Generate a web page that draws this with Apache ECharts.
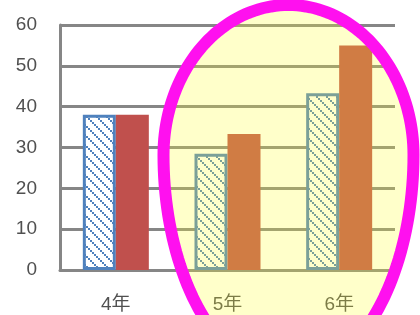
<!DOCTYPE html>
<html>
<head>
<meta charset="utf-8">
<script src="https://cdn.jsdelivr.net/npm/echarts@6/dist/echarts.min.js"></script>
<style>
html, body { margin: 0; padding: 0; background: #fff; }
#main { width: 420px; height: 315px; }
</style>
</head>
<body>
<div id="main"></div>
<script>
// 数据
var categories = ['4年', '5年', '6年'];
var hatchValues = [38, 28.5, 43.3];
var solidValues = [38, 33.3, 55];
var yTicks = [0, 10, 20, 30, 40, 50, 60];

// 斜线填充
function makeHatch(color) {
    var c = document.createElement('canvas');
    c.width = 10;
    c.height = 10;
    var ctx = c.getContext('2d');
    ctx.fillStyle = '#fff';
    ctx.fillRect(0, 0, 10, 10);
    ctx.fillStyle = color;
    for (var i = 0; i < 10; i += 2) {
        ctx.fillRect(i, i, 2, 2);
    }
    return c;
}

// 圈（上半短、下半长的蛋形）
function eggPoints(cx, cy, rx, ryTop, ryBottom) {
    var pts = [];
    for (var k = 0; k < 180; k++) {
        var t = k / 180 * Math.PI * 2;
        var s = Math.sin(t);
        pts.push([cx + rx * Math.cos(t), cy + (s > 0 ? ryBottom : ryTop) * s]);
    }
    return pts;
}

var myChart = echarts.init(document.getElementById('main'));
var option = {
    animation: false,
    backgroundColor: '#fff',
    grid: { left: 60, right: 25, top: 25, bottom: 45 },
    xAxis: {
        type: 'category',
        data: categories,
        axisLine: { lineStyle: { color: '#868686', width: 3 } },
        axisTick: { show: false },
        axisLabel: { color: '#505050', fontSize: 19, margin: 25, fontFamily: 'Liberation Sans, Noto Sans CJK SC' }
    },
    yAxis: {
        type: 'value',
        min: yTicks[0],
        max: yTicks[yTicks.length - 1],
        interval: 10,
        axisLine: { show: true, lineStyle: { color: '#868686', width: 3 } },
        axisTick: { show: false },
        axisLabel: { color: '#505050', fontSize: 19, margin: 23, fontFamily: 'Liberation Sans' },
        splitLine: { lineStyle: { color: '#868686', width: 3 } }
    },
    series: [
        {
            type: 'bar',
            data: hatchValues,
            barWidth: 33,
            barGap: 0,
            itemStyle: {
                color: { image: makeHatch('#4f81bd'), repeat: 'repeat' },
                borderColor: '#4f81bd',
                borderWidth: 3
            }
        },
        {
            type: 'bar',
            data: solidValues,
            barWidth: 33,
            itemStyle: { color: '#c0504d' }
        }
    ],
    graphic: [
        {
            type: 'polygon',
            z: 100,
            shape: { points: eggPoints(288.5, 155, 125, 150, 221) },
            style: {
                fill: 'rgba(255,255,45,0.25)',
                stroke: '#ff10ef',
                lineWidth: 12
            }
        }
    ]
};
myChart.setOption(option);
</script>
</body>
</html>
